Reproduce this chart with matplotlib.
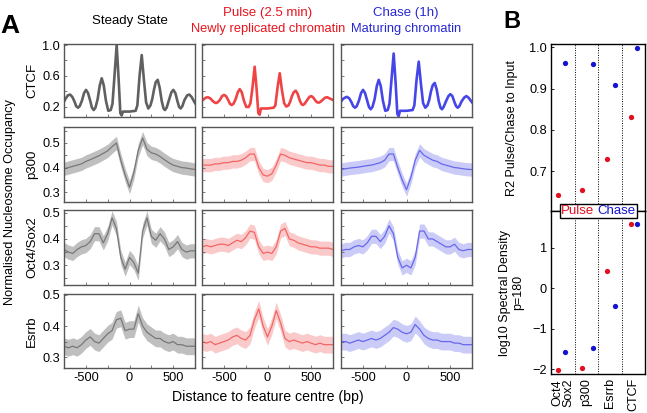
import numpy as np
import matplotlib
matplotlib.use('Agg')
import matplotlib.pyplot as plt
from matplotlib.lines import Line2D

plt.rcParams['font.family'] = ['Liberation Sans', 'DejaVu Sans']

# ---- panel A data ----
ctcf_x = [-750, -730, -705, -681, -655, -630, -610, -590, -570, -545,
          -520, -498, -475, -450, -430, -410, -390, -365, -340, -318,
          -295, -270, -243, -215, -195, -172, -147, -124, -105, -90,
          -75, 0, 70, 90, 115, 140, 165, 190, 215, 240,
          260, 280, 300, 323, 345, 370, 390, 406, 425, 455,
          480, 502, 525, 550, 568, 586, 605, 630, 660, 685,
          710, 730, 750]
ctcf_steady = [0.27, 0.31, 0.35, 0.36, 0.33, 0.27, 0.21, 0.19, 0.21, 0.28,
               0.38, 0.42, 0.38, 0.28, 0.19, 0.16, 0.19, 0.30, 0.48, 0.57,
               0.48, 0.28, 0.15, 0.16, 0.24, 0.60, 1.00, 0.55, 0.12, 0.09,
               0.14, 0.14, 0.15, 0.22, 0.60, 0.87, 0.55, 0.26, 0.18, 0.22,
               0.30, 0.42, 0.52, 0.55, 0.45, 0.27, 0.18, 0.16, 0.19, 0.30,
               0.39, 0.42, 0.38, 0.27, 0.20, 0.18, 0.21, 0.29, 0.35, 0.36,
               0.33, 0.29, 0.25]
ctcf_pulse = [0.28, 0.30, 0.32, 0.325, 0.31, 0.28, 0.26, 0.25, 0.26, 0.29,
              0.34, 0.355, 0.34, 0.29, 0.24, 0.225, 0.24, 0.30, 0.39, 0.43,
              0.39, 0.28, 0.20, 0.20, 0.25, 0.45, 0.72, 0.42, 0.12, 0.10,
              0.18, 0.18, 0.19, 0.22, 0.45, 0.635, 0.42, 0.25, 0.205, 0.22,
              0.27, 0.34, 0.39, 0.41, 0.37, 0.28, 0.235, 0.225, 0.24, 0.29,
              0.33, 0.34, 0.32, 0.28, 0.26, 0.255, 0.265, 0.29, 0.32, 0.325,
              0.31, 0.30, 0.29]
ctcf_chase = [0.27, 0.30, 0.32, 0.33, 0.31, 0.26, 0.21, 0.19, 0.21, 0.28,
              0.38, 0.42, 0.38, 0.28, 0.20, 0.17, 0.20, 0.30, 0.47, 0.55,
              0.47, 0.28, 0.15, 0.16, 0.24, 0.55, 0.89, 0.50, 0.11, 0.08,
              0.15, 0.15, 0.16, 0.22, 0.55, 0.785, 0.50, 0.25, 0.19, 0.22,
              0.29, 0.40, 0.48, 0.51, 0.43, 0.27, 0.19, 0.17, 0.20, 0.28,
              0.34, 0.365, 0.34, 0.26, 0.21, 0.19, 0.21, 0.27, 0.32, 0.34,
              0.32, 0.29, 0.26]

dist = np.arange(-750, 751, 50)

p300_steady = [0.395, 0.400, 0.405, 0.410, 0.415, 0.425, 0.432, 0.440, 0.448, 0.458, 0.468, 0.485,
               0.500, 0.430, 0.370, 0.320, 0.380, 0.470, 0.520, 0.475, 0.460, 0.455, 0.445, 0.432,
               0.420, 0.410, 0.405, 0.400, 0.398, 0.395, 0.392]
p300_pulse = [0.41, 0.41, 0.41, 0.415, 0.415, 0.42, 0.42, 0.425, 0.425, 0.43, 0.44, 0.455, 0.455,
              0.40, 0.37, 0.365, 0.375, 0.41, 0.455, 0.45, 0.44, 0.435, 0.43, 0.425, 0.42, 0.42,
              0.415, 0.41, 0.41, 0.405, 0.405]
p300_chase = [0.392, 0.395, 0.398, 0.40, 0.402, 0.405, 0.408, 0.41, 0.415, 0.42, 0.43, 0.455, 0.455,
              0.40, 0.35, 0.31, 0.36, 0.43, 0.47, 0.45, 0.44, 0.43, 0.425, 0.415, 0.41, 0.405,
              0.40, 0.398, 0.395, 0.393, 0.392]

oct4_steady = [0.36, 0.35, 0.345, 0.36, 0.37, 0.375, 0.39, 0.42, 0.42, 0.385, 0.42, 0.48, 0.44,
               0.33, 0.285, 0.33, 0.31, 0.27, 0.43, 0.48, 0.41, 0.395, 0.42, 0.40, 0.36, 0.37,
               0.39, 0.36, 0.35, 0.355, 0.355]
oct4_pulse = [0.37, 0.375, 0.37, 0.375, 0.38, 0.38, 0.375, 0.385, 0.395, 0.39, 0.405, 0.43, 0.425,
              0.37, 0.345, 0.35, 0.345, 0.37, 0.43, 0.44, 0.40, 0.395, 0.385, 0.38, 0.375, 0.37,
              0.37, 0.365, 0.365, 0.365, 0.36]
oct4_chase = [0.355, 0.36, 0.36, 0.37, 0.375, 0.37, 0.385, 0.41, 0.41, 0.39, 0.41, 0.45, 0.42,
              0.33, 0.29, 0.30, 0.29, 0.33, 0.43, 0.43, 0.40, 0.40, 0.39, 0.38, 0.37, 0.37,
              0.38, 0.36, 0.355, 0.36, 0.36]

esrrb_steady = [0.335, 0.33, 0.335, 0.33, 0.34, 0.355, 0.365, 0.35, 0.345, 0.36, 0.375, 0.385,
                0.42, 0.425, 0.385, 0.39, 0.39, 0.44, 0.40, 0.38, 0.37, 0.36, 0.36, 0.35, 0.345,
                0.35, 0.34, 0.34, 0.335, 0.335, 0.335]
esrrb_pulse = [0.35, 0.345, 0.35, 0.34, 0.345, 0.35, 0.355, 0.365, 0.37, 0.36, 0.355, 0.37, 0.42,
               0.455, 0.40, 0.365, 0.40, 0.45, 0.41, 0.36, 0.35, 0.355, 0.35, 0.345, 0.35, 0.345,
               0.34, 0.345, 0.34, 0.34, 0.34]
esrrb_chase = [0.35, 0.35, 0.345, 0.35, 0.355, 0.35, 0.355, 0.36, 0.355, 0.36, 0.37, 0.38, 0.395,
               0.39, 0.38, 0.375, 0.38, 0.405, 0.39, 0.37, 0.36, 0.355, 0.355, 0.35, 0.35, 0.35,
               0.345, 0.345, 0.34, 0.34, 0.34]

row_names = ['CTCF', 'p300', 'Oct4/Sox2', 'Esrrb']

# ---- panel B data ----
factors = ['Oct4\nSox2', 'p300', 'Esrrb', 'CTCF']
pulse_x = [0.78, 1.80, 2.90, 3.89]
chase_x = [1.09, 2.29, 3.21, 4.17]
r2_pulse = [0.641, 0.654, 0.729, 0.832]
r2_chase = [0.961, 0.959, 0.908, 0.998]
spec_pulse = [-2.02, -1.96, 0.43, 1.59]
spec_chase = [-1.57, -1.48, -0.45, 1.59]

W, H = 647.0, 413.0
grey = '#606060'
red_line = '#f04444'
blue_line = '#4646e8'
red_txt = '#e8141e'
blue_txt = '#2828d2'
red_dot = '#e01020'
blue_dot = '#1414d0'


def box(l, t, r, b):
    return [l / W, 1 - b / H, (r - l) / W, (b - t) / H]


fig = plt.figure(figsize=(6.47, 4.13), dpi=100)

col_l = [64, 202, 341]
col_r = [195, 333, 472]
row_t = [44, 127, 210, 294]
row_b = [117, 202, 285, 368]

rows = [
    (ctcf_x, [ctcf_steady, ctcf_pulse, ctcf_chase], (0.07, 1.013), [0.2, 0.6, 1.0], 0.2, False),
    (dist, [p300_steady, p300_pulse, p300_chase], (0.26, 0.565), [0.3, 0.4, 0.5], 0.05, True),
    (dist, [oct4_steady, oct4_pulse, oct4_chase], (0.225, 0.51), [0.3, 0.4, 0.5], 0.05, True),
    (dist, [esrrb_steady, esrrb_pulse, esrrb_chase], (0.265, 0.503), [0.3, 0.4, 0.5], 0.05, True),
]
cols = [grey, red_line, blue_line]
band_alpha = [0.4, 0.28, 0.28]

for r, (xs, series, ylim, ymaj, ystep, noisy) in enumerate(rows):
    for c in range(3):
        ax = fig.add_axes(box(col_l[c], row_t[r], col_r[c], row_b[r]))
        y = np.array(series[c])
        if noisy:
            ax.fill_between(xs, y - 0.027, y + 0.027, color=cols[c], alpha=band_alpha[c], lw=0)
            ax.plot(xs, y, color=cols[c], lw=0.9, alpha=0.75)
        else:
            ax.plot(xs, y, color=cols[c], lw=1.9)
        ax.set_xlim(-750, 750)
        ax.set_xticks([-500, -250, 0, 250, 500])
        ax.set_xticklabels(['-500', '', '0', '', '500'] if r == 3 else [])
        yt = np.arange(ymaj[0] - ystep * 2, ymaj[-1] + ystep * 2, ystep)
        ax.set_yticks(yt)
        lab = ['%.1f' % v if any(abs(v - m) < 1e-6 for m in ymaj) else '' for v in yt]
        ax.set_yticklabels(lab if c == 0 else [])
        ax.set_ylim(*ylim)
        ax.tick_params(direction='in', length=2.5, width=0.6, color='#666666',
                       labelsize=9.2, pad=3)
        for s in ax.spines.values():
            s.set_color('#555555')
            s.set_linewidth(1.0)
        if c == 0:
            ax.set_ylabel(row_names[r], fontsize=9.5, labelpad=3)

# titles
fig.text(130 / W, 1 - 21 / H, 'Steady State', ha='center', va='center', fontsize=9.5)
fig.text(268 / W, 1 - 13 / H, 'Pulse (2.5 min)', ha='center', va='center', fontsize=9.5, color=red_txt)
fig.text(268 / W, 1 - 29 / H, 'Newly replicated chromatin', ha='center', va='center', fontsize=9.3, color=red_txt)
fig.text(406 / W, 1 - 13 / H, 'Chase (1h)', ha='center', va='center', fontsize=9.5, color=blue_txt)
fig.text(406 / W, 1 - 29 / H, 'Maturing chromatin', ha='center', va='center', fontsize=9.3, color=blue_txt)
fig.text(10 / W, 1 - 202 / H, 'Normalised Nucleosome Occupancy', rotation=90,
         ha='center', va='center', fontsize=9.2)
fig.text(268 / W, 1 - 397 / H, 'Distance to feature centre (bp)', ha='center', va='center', fontsize=10.2)
fig.text(10 / W, 1 - 26 / H, 'A', ha='center', va='center', fontsize=19, fontweight='bold')
fig.text(512 / W, 1 - 22 / H, 'B', ha='center', va='center', fontsize=17, fontweight='bold')

# ---- panel B ----
axu = fig.add_axes(box(551, 44, 645, 211))
axl = fig.add_axes(box(551, 211, 645, 374))
for ax in (axu, axl):
    ax.set_xlim(0.5, 4.5)
    for xv in (1.5, 2.5, 3.5):
        ax.axvline(xv, color='black', ls=(0, (1, 1.5)), lw=0.7)
    ax.tick_params(direction='in', length=2.5, width=0.6, labelsize=9.2, pad=3)
    for s in ax.spines.values():
        s.set_color('black')
        s.set_linewidth(1.0)

axu.plot(pulse_x, r2_pulse, 'o', color=red_dot, ms=3.8, mec='none')
axu.plot(chase_x, r2_chase, 'o', color=blue_dot, ms=3.8, mec='none')
axu.set_ylim(0.603, 1.008)
axu.set_yticks([0.7, 0.8, 0.9, 1.0])
axu.set_xticks([])
axu.set_ylabel('R2 Pulse/Chase to Input', fontsize=9, labelpad=8)

axl.plot(pulse_x, spec_pulse, 'o', color=red_dot, ms=3.8, mec='none')
axl.plot(chase_x, spec_chase, 'o', color=blue_dot, ms=3.8, mec='none')
axl.set_ylim(-2.12, 1.91)
axl.set_yticks([-2, -1, 0, 1])
axl.set_xticks([1, 2, 3, 4])
axl.set_xticklabels(factors, rotation=90, fontsize=9, linespacing=0.85)
axl.tick_params(axis='x', length=0, pad=3)
axl.set_ylabel('log10 Spectral Density\np=180', fontsize=9, labelpad=6, linespacing=1.1)

handles = [Line2D([], [], lw=0), Line2D([], [], lw=0)]
leg = fig.legend(handles, ['Pulse', 'Chase'], ncol=2, handlelength=0, handletextpad=0,
                 columnspacing=0.25, labelcolor=[red_dot, blue_dot], fontsize=9.5,
                 loc='center', bbox_to_anchor=(598.5 / W, 1 - 211 / H),
                 frameon=True, fancybox=False, edgecolor='black', framealpha=1,
                 borderpad=0.1, borderaxespad=0)
leg.get_frame().set_linewidth(1.0)

fig.savefig('out.png', dpi=100)
